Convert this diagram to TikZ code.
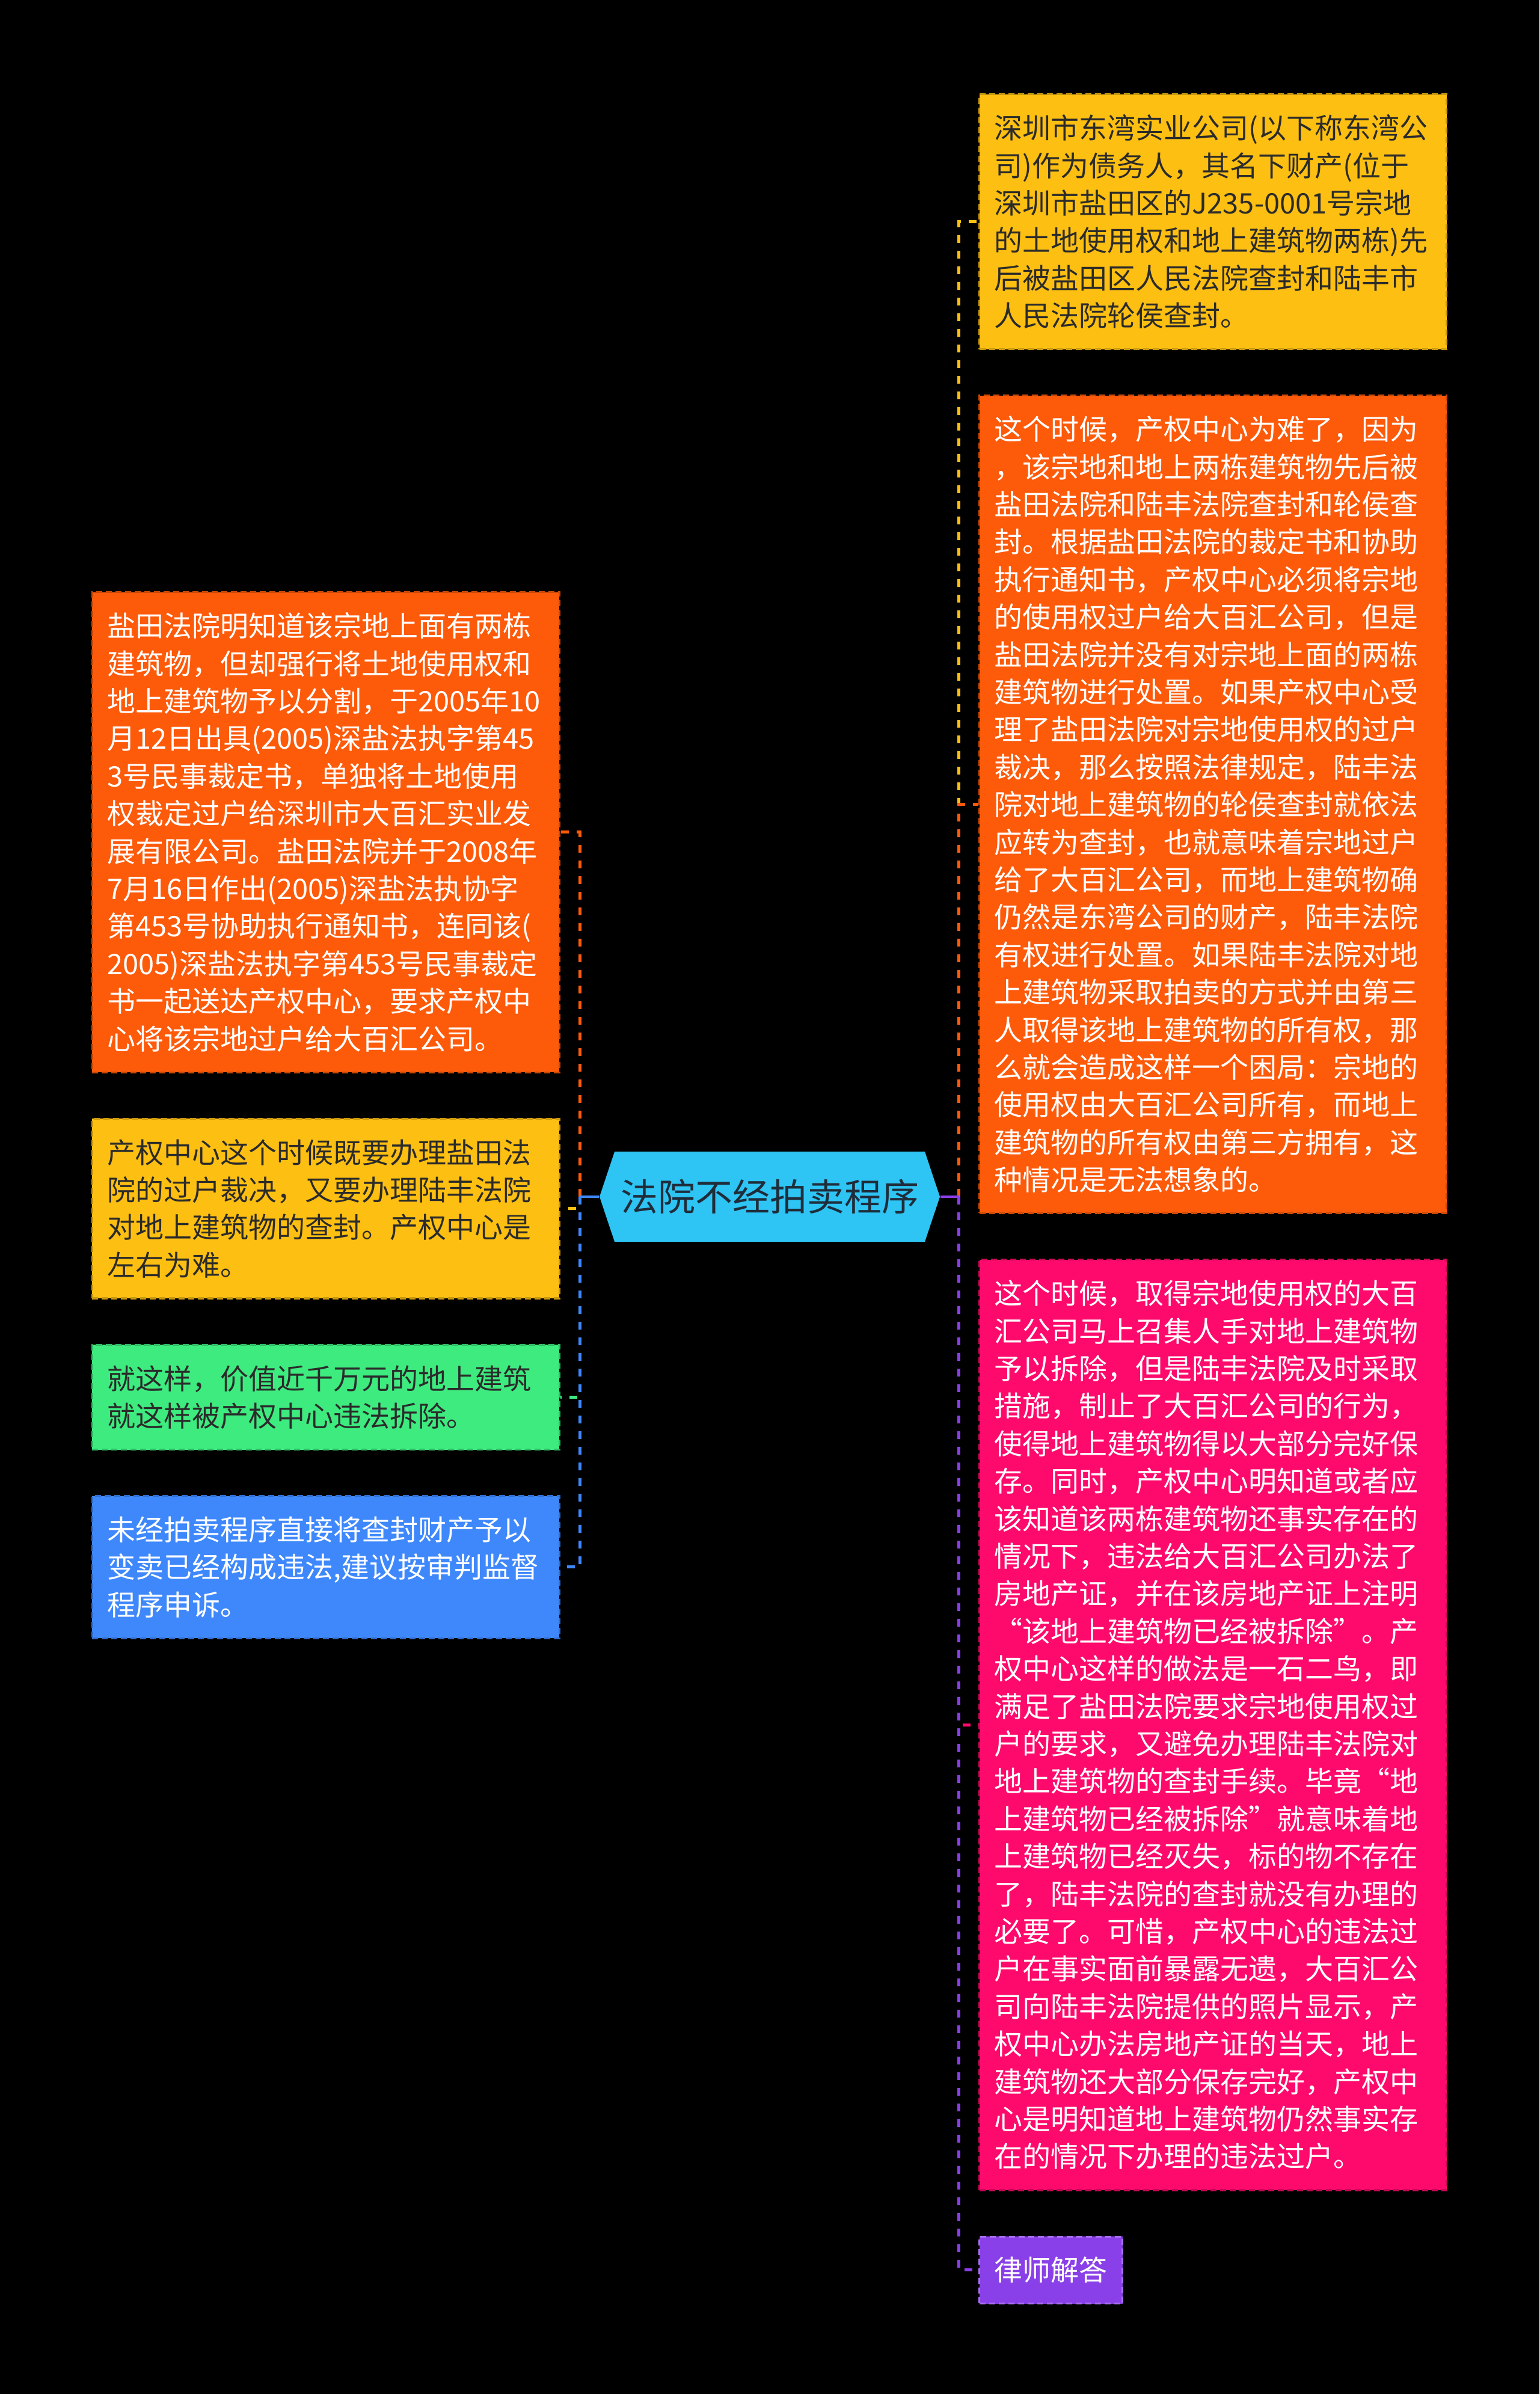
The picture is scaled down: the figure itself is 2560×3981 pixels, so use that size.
\documentclass[tikz,border=0pt]{standalone}
\usepackage{fontspec}
\setmainfont{Noto Sans CJK SC}
\usepackage{xcolor}
\definecolor{cRoot}{HTML}{2EC4F4}
\definecolor{cYellow}{HTML}{FDBF12}
\definecolor{cOrange}{HTML}{FD5A0A}
\definecolor{cPink}{HTML}{FE0A6C}
\definecolor{cPurple}{HTML}{8A40E8}
\definecolor{cGreen}{HTML}{3DEB7F}
\definecolor{cBlue}{HTML}{3E88FC}
\definecolor{cDark}{HTML}{2B2B2B}
\definecolor{cRootText}{HTML}{1F2D3A}
\usepackage{tikz}
\usetikzlibrary{positioning,shapes.symbols}
\tikzset{
  node-box/.style={rectangle,line width=0.8pt,dash pattern=on 2.5pt off 1.5pt,
    inner xsep=6.25pt,inner ysep=8.5pt,align=left,
    font=\fontsize{11.75pt}{15.6pt}\selectfont},
  node-text/.style={text width=181.75pt},
  node-root/.style={signal,signal to=west and east,signal pointer angle=143,
    fill=cRoot,text=cRootText,minimum width=141.5pt,minimum height=37.5pt,
    inner sep=0pt,font=\fontsize{15.5pt}{18pt}\selectfont},
  node-yellow/.style={fill=cYellow,draw=cYellow!80!black,text=cDark},
  node-orange/.style={fill=cOrange,draw=cOrange!80!black,text=white},
  node-pink/.style={fill=cPink,draw=cPink!80!black,text=white},
  node-purple/.style={fill=cPurple,draw=cPurple!75!white,text=white},
  node-green/.style={fill=cGreen,draw=cGreen!80!black,text=cDark},
  node-blue/.style={fill=cBlue,draw=cBlue!80!black,text=white},
  link/.style={line width=1.25pt,dash pattern=on 3.25pt off 3.25pt},
  link-root/.style={line width=1pt},
}

\begin{document}
\begin{tikzpicture}[x=0.25pt,y=-0.25pt,node distance=18.5pt]
  \fill[black] (0,0) rectangle (2560,3981);
  \node[node-root] (root) at (1280,1990) {法院不经拍卖程序};
  \coordinate[left=8pt of root.west] (lt);
  \coordinate[right=7.75pt of root.east] (rt);

  % right side
  \node[node-box,node-text,node-yellow,anchor=north west] (ra) at (1627,155)
    {深圳市东湾实业公司(以下称东湾公\\司)作为债务人，其名下财产(位于\\深圳市盐田区的J235-0001号宗地\\的土地使用权和地上建筑物两栋)先\\后被盐田区人民法院查封和陆丰市\\人民法院轮侯查封。};
  \node[node-box,node-text,node-orange,below=of ra] (rb)
    {这个时候，产权中心为难了，因为\\，该宗地和地上两栋建筑物先后被\\盐田法院和陆丰法院查封和轮侯查\\封。根据盐田法院的裁定书和协助\\执行通知书，产权中心必须将宗地\\的使用权过户给大百汇公司，但是\\盐田法院并没有对宗地上面的两栋\\建筑物进行处置。如果产权中心受\\理了盐田法院对宗地使用权的过户\\裁决，那么按照法律规定，陆丰法\\院对地上建筑物的轮侯查封就依法\\应转为查封，也就意味着宗地过户\\给了大百汇公司，而地上建筑物确\\仍然是东湾公司的财产，陆丰法院\\有权进行处置。如果陆丰法院对地\\上建筑物采取拍卖的方式并由第三\\人取得该地上建筑物的所有权，那\\么就会造成这样一个困局：宗地的\\使用权由大百汇公司所有，而地上\\建筑物的所有权由第三方拥有，这\\种情况是无法想象的。};
  \node[node-box,node-text,node-pink,below=of rb] (rc)
    {这个时候，取得宗地使用权的大百\\汇公司马上召集人手对地上建筑物\\予以拆除，但是陆丰法院及时采取\\措施，制止了大百汇公司的行为，\\使得地上建筑物得以大部分完好保\\存。同时，产权中心明知道或者应\\该知道该两栋建筑物还事实存在的\\情况下，违法给大百汇公司办法了\\房地产证，并在该房地产证上注明\\“该地上建筑物已经被拆除”。产\\权中心这样的做法是一石二鸟，即\\满足了盐田法院要求宗地使用权过\\户的要求，又避免办理陆丰法院对\\地上建筑物的查封手续。毕竟“地\\上建筑物已经被拆除”就意味着地\\上建筑物已经灭失，标的物不存在\\了，陆丰法院的查封就没有办理的\\必要了。可惜，产权中心的违法过\\户在事实面前暴露无遗，大百汇公\\司向陆丰法院提供的照片显示，产\\权中心办法房地产证的当天，地上\\建筑物还大部分保存完好，产权中\\心是明知道地上建筑物仍然事实存\\在的情况下办理的违法过户。};
  \node[node-box,node-purple,below=of rc.south west,anchor=north west] (rd)
    {律师解答};

  % left side
  \node[node-box,node-text,node-orange,anchor=north east] (la) at (932,983)
    {盐田法院明知道该宗地上面有两栋\\建筑物，但却强行将土地使用权和\\地上建筑物予以分割，于2005年10\\月12日出具(2005)深盐法执字第45\\3号民事裁定书，单独将土地使用\\权裁定过户给深圳市大百汇实业发\\展有限公司。盐田法院并于2008年\\7月16日作出(2005)深盐法执协字\\第453号协助执行通知书，连同该(\\2005)深盐法执字第453号民事裁定\\书一起送达产权中心，要求产权中\\心将该宗地过户给大百汇公司。};
  \node[node-box,node-text,node-yellow,below=of la] (lb)
    {产权中心这个时候既要办理盐田法\\院的过户裁决，又要办理陆丰法院\\对地上建筑物的查封。产权中心是\\左右为难。};
  \node[node-box,node-text,node-green,below=of lb] (lc)
    {就这样，价值近千万元的地上建筑\\就这样被产权中心违法拆除。};
  \node[node-box,node-text,node-blue,below=of lc] (ld)
    {未经拍卖程序直接将查封财产予以\\变卖已经构成违法,建议按审判监督\\程序申诉。};

  % connectors
  \draw[link,cYellow] (rt) |- (ra.west);
  \draw[link,cOrange] (rt) |- (rb.west);
  \draw[link,cPink] (rt) |- (rc.west);
  \draw[link,cPurple] (rt) |- (rd.west);
  \draw[link-root,cPurple] (root.east) -- (rt);
  \draw[link,cOrange] (lt) |- (la.east);
  \draw[link,cYellow] (lt) |- (lb.east);
  \draw[link,cGreen] (lt) |- (lc.east);
  \draw[link,cBlue] (lt) |- (ld.east);
  \draw[link-root,cBlue] (root.west) -- (lt);
\end{tikzpicture}
\end{document}
